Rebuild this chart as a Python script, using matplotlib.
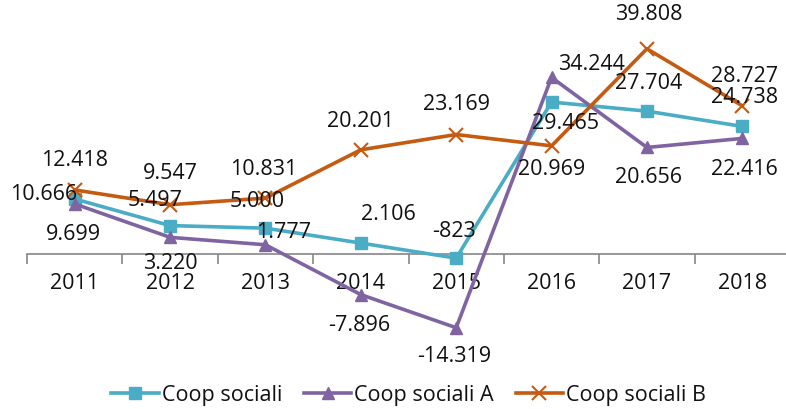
import matplotlib
matplotlib.use("Agg")
import matplotlib.pyplot as plt

plt.rcParams["font.family"] = ["Open Sans", "DejaVu Sans"]

# ---------- dati ----------
anni = ["2011", "2012", "2013", "2014", "2015", "2016", "2017", "2018"]
coop = [10.666, 5.497, 5.000, 2.106, -0.823, 29.465, 27.704, 24.738]
coop_a = [9.699, 3.220, 1.777, -7.896, -14.319, 34.244, 20.656, 22.416]
coop_b = [12.418, 9.547, 10.831, 20.201, 23.169, 20.969, 39.808, 28.727]

# etichette come nel foglio originale (separatore migliaia = punto)
def etichetta(v):
    n = round(v * 1000)
    s = f"{abs(n):,}".replace(",", ".")
    return ("-" if n < 0 else "") + s

# spostamento etichette (pixel, x destra / y su)
OFF_COOP = [(-31, 5), (-15, 26), (-8, 28), (28, 30), (-2, 28), (14, -20), (2, 29), (2, 30)]
OFF_A = [(-1, -30), (0, -25), (18, 13), (-2, -30), (-2, -28), (40, 14), (2, -29), (2, -30)]
OFF_B = [(0, 30), (0, 32), (-2, 30), (0, 29), (0, 31), (0, -23), (2, 35), (2, 30)]

C_COOP = "#4BACC6"
C_A = "#8064A2"
C_B = "#C55A11"
TESTO = "#111111"
FS = 15.5

fig = plt.figure(figsize=(7.86, 4.10), dpi=100)
ax = fig.add_axes([27 / 786, 52 / 410, 763 / 786, 335 / 410])
X = list(range(len(anni)))

ax.plot(X, coop, color=C_COOP, lw=2.6, marker="s", ms=8, label="Coop sociali", zorder=3)
ax.plot(X, coop_a, color=C_A, lw=2.6, marker="^", ms=9, label="Coop sociali A", zorder=4)
ax.plot(X, coop_b, color=C_B, lw=2.6, marker="x", ms=10, mew=1.5, label="Coop sociali B", zorder=5)

for serie, offs in [(coop, OFF_COOP), (coop_a, OFF_A), (coop_b, OFF_B)]:
    for i, v in enumerate(serie):
        ax.annotate(etichetta(v), (i, v), xytext=(offs[i][0] * 0.72, offs[i][1] * 0.72),
                    textcoords="offset points", ha="center", va="center",
                    fontsize=FS, color=TESTO, zorder=6)

ax.set_xlim(-0.5, 7.5)
ax.set_ylim(-20, 45)

for s in ["top", "right", "left"]:
    ax.spines[s].set_visible(False)
ax.spines["bottom"].set_position(("data", 0))
ax.spines["bottom"].set_color("#868686")
ax.spines["bottom"].set_linewidth(1.2)
ax.set_yticks([])

ax.set_xticks([i - 0.5 for i in range(len(anni) + 1)])
ax.set_xticklabels([])
ax.tick_params(axis="x", which="major", direction="out", length=7, width=1.2, color="#868686")
ax.set_xticks(X, minor=True)
ax.set_xticklabels(anni, minor=True, fontsize=FS, color=TESTO)
ax.tick_params(axis="x", which="minor", length=0, pad=13)

fig.legend(loc="center", bbox_to_anchor=(0.52, 0.035), ncol=3, frameon=False,
           fontsize=FS, handlelength=2.2, handletextpad=0.15, columnspacing=1.0,
           labelcolor=TESTO)

plt.savefig("out.png", dpi=100)
plt.close()
